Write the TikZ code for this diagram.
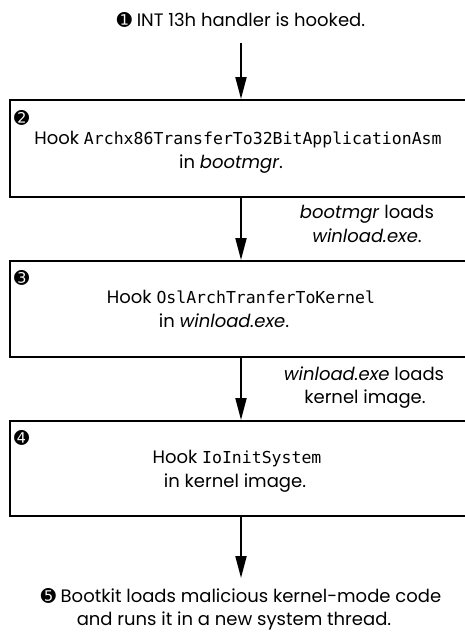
\documentclass[tikz,border=0pt]{standalone}
\usepackage{fontspec}
\setmainfont{Poppins}
\setmonofont{DejaVu Sans Mono}
\newfontfamily\dingfont{DejaVu Sans}
\usetikzlibrary{arrows.meta}
\begin{document}
\begin{tikzpicture}[x=1pt,y=-1pt,
  box/.style={draw, line width=2pt, minimum width=462pt, inner sep=0pt},
  txt/.style={anchor=base, inner sep=0pt, font=\fontsize{18}{20}\selectfont},
  num/.style={anchor=north west, inner sep=0pt, font=\dingfont\fontsize{18}{18}\selectfont},
  arr/.style={line width=2pt, -{Triangle[length=22pt,width=11pt]}}]
\useasboundingbox (0,0) rectangle (464,634);
% boxes
\node[box, minimum height=97pt] (b2) at (241,148.5) {};
\node[box, minimum height=96pt] (b3) at (241,309) {};
\node[box, minimum height=95pt] (b4) at (241,468.5) {};
% top text
\node[txt] (t1) at (241,27) {{\dingfont\char"278A} INT 13h handler is hooked.};
% box 2
\node[num] (n2) at (14,110) {\char"278B};
\node[txt] (b2a) at (238,144) {Hook {\fontsize{16.5}{18}\selectfont\ttfamily Archx86TransferTo32BitApplicationAsm}};
\node[txt] (b2b) at (231,168) {in \textit{bootmgr}.};
% label 2
\node[txt] (l2a) at (367,218) {\textit{bootmgr} loads};
\node[txt] (l2b) at (367,242) {\textit{winload.exe}.};
% box 3
\node[num] (n3) at (14,270) {\char"278C};
\node[txt] (b3a) at (241,303) {Hook {\fontsize{16.5}{18}\selectfont\ttfamily OslArchTranferToKernel}};
\node[txt] (b3b) at (224,327) {in \textit{winload.exe}.};
% label 3
\node[txt] (l3a) at (364,380) {\textit{winload.exe} loads};
\node[txt] (l3b) at (365,403) {kernel image.};
% box 4
\node[num] (n4) at (14,430) {\char"278D};
\node[txt] (b4a) at (237,463) {Hook {\fontsize{16.5}{18}\selectfont\ttfamily IoInitSystem}};
\node[txt] (b4b) at (235,487) {in kernel image.};
% bottom text
\node[txt] (t5a) at (241,602) {{\dingfont\char"278E} Bootkit loads malicious kernel-mode code};
\node[txt] (t5b) at (234,625) {and runs it in a new system thread.};
% arrows
\draw[arr] ([yshift=-16pt]t1.base) -- (b2.north);
\draw[arr] (b2.south) -- (b3.north);
\draw[arr] (b3.south) -- (b4.north);
\draw[arr] (b4.south) -- ([yshift=24pt]t5a.base);
\end{tikzpicture}
\end{document}
